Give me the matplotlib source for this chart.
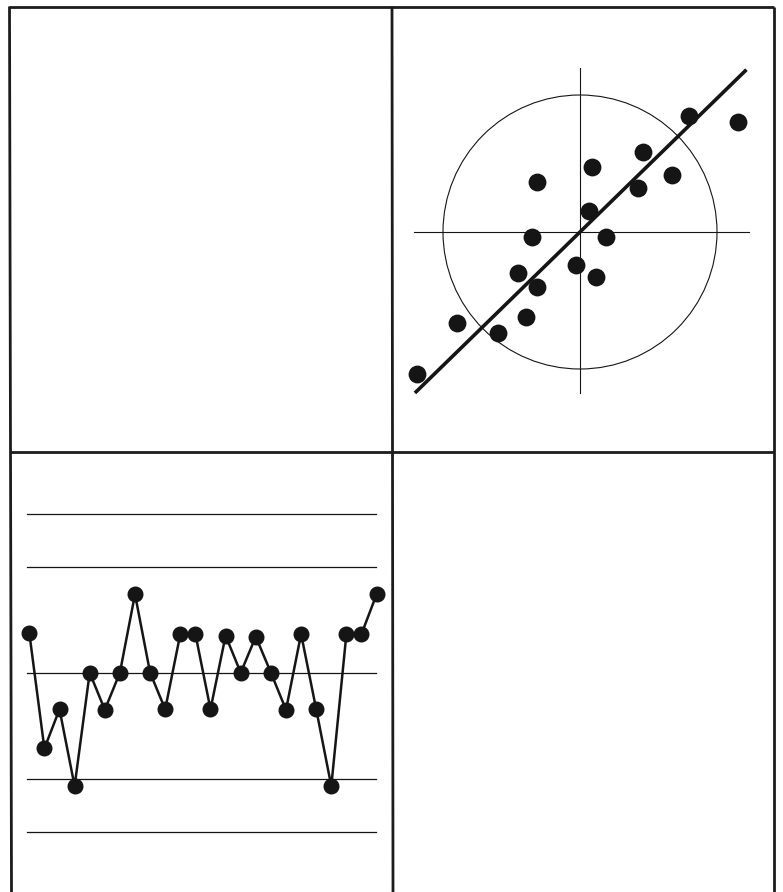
import numpy as np
import matplotlib
matplotlib.use("Agg")
import matplotlib.pyplot as plt
from matplotlib.patches import Circle

# scatter panel (standardised units, circle radius 2)
scatter_x = [-2.38, -1.80, -1.19, -0.79, -0.91, -0.63, -0.70, -0.63, -0.06,
             0.23, 0.38, 0.13, 0.18, 0.85, 0.92, 1.34, 1.59, 2.30]
scatter_y = [-2.07, -1.33, -1.47, -1.24, -0.60, -0.81, -0.07, 0.73, -0.48,
             -0.66, -0.08, 0.31, 0.95, 0.64, 1.17, 0.83, 1.70, 1.60]
fit_x = [-2.41, 2.43]
fit_y = [-2.35, 2.37]
circle_radius = 2.0

# control chart panel (sigma units)
run_values = [0.75, -1.43, -0.69, -2.14, 0.0, -0.70, 0.0, 1.48, 0.0, -0.69,
              0.73, 0.73, -0.69, 0.70, 0.0, 0.68, 0.0, -0.70, 0.73, -0.69,
              -2.14, 0.73, 0.73, 1.48]
limit_levels = [-3, -2, 0, 2, 3]

W, H = 783, 892
ink = "#151515"


def px_axes(fig, x0, y0, x1, y1):
    # axes placed by pixel box (top-left origin)
    return fig.add_axes([x0 / W, 1 - y1 / H, (x1 - x0) / W, (y1 - y0) / H])


fig = plt.figure(figsize=(W / 100, H / 100), dpi=100)
fig.patch.set_facecolor("white")

# panel frame
frame = fig.add_axes([0, 0, 1, 1])
frame.set_xlim(0, W)
frame.set_ylim(H, 0)
frame.axis("off")
frame_kw = dict(color="#1c1c1c", lw=2.0, solid_capstyle="butt")
frame.plot([9.5, 11.5], [6.5, H], **frame_kw)
frame.plot([9, 774], [6.5, 6.5], **frame_kw)
frame.plot([773.5, 773.5], [6.5, H], **frame_kw)
frame.plot([392, 393], [6.5, H], **frame_kw)
frame.plot([10, 774], [452, 452], **frame_kw)

# scatter with regression line
s = 68.5
cx, cy = 580, 232
lim = 2.6
ax1 = px_axes(fig, cx - lim * s, cy - lim * s, cx + lim * s, cy + lim * s)
ax1.set_xlim(-lim, lim)
ax1.set_ylim(-lim, lim)
ax1.axis("off")
ax1.add_patch(Circle((0, 0), circle_radius, fill=False, ec=ink, lw=0.8))
ax1.plot([0, 0], [-2.35, 2.39], color=ink, lw=0.8)
ax1.plot([-2.43, 2.46], [0, 0], color=ink, lw=0.8)
ax1.plot(fit_x, fit_y, color=ink, lw=2.6, solid_capstyle="butt")
ax1.scatter(scatter_x, scatter_y, s=165, color=ink, zorder=3, linewidths=0)

# control chart
sig = 53
step = 15.1
x_first, center_y = 29.3, 672.7
ylo, yhi = -4.0, 4.0
ax2 = px_axes(fig, x_first - step, center_y - yhi * sig, x_first + 24 * step, center_y - ylo * sig)
ax2.set_xlim(0, 25)
ax2.set_ylim(ylo, yhi)
ax2.axis("off")
idx = np.arange(1, len(run_values) + 1)
for lv in limit_levels:
    ax2.plot([0.87, 23.96], [lv, lv], color=ink, lw=0.9)
ax2.plot(idx, run_values, color=ink, lw=1.8, marker="o", markersize=10.5,
         markerfacecolor=ink, markeredgecolor=ink, zorder=3)

fig.savefig("out.png", dpi=100, facecolor="white")
